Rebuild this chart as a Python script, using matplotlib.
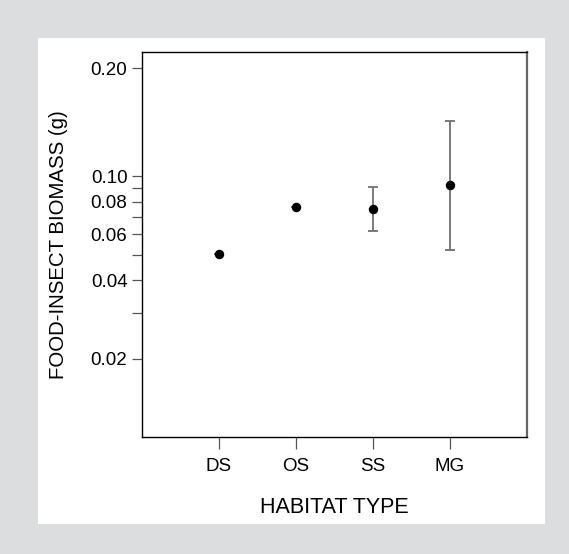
import matplotlib.pyplot as plt
from matplotlib.patches import Rectangle
import numpy as np

# values
habitats = ["DS", "OS", "SS", "MG"]
biomass = [0.0502, 0.0764, 0.0751, 0.0929]
lower = [0.0502, 0.0764, 0.0616, 0.0524]
upper = [0.0502, 0.0764, 0.0910, 0.163]

# y ticks as printed on the original (the 0.20 label sits higher than a true 0.20)
ytick_values = [0.02, 0.03, 0.04, 0.05, 0.06, 0.07, 0.08, 0.09, 0.10, 0.26]
ytick_labels = ["0.02", "", "0.04", "", "0.06", "", "0.08", "", "0.10", "0.20"]

plt.rcParams["font.family"] = ["Liberation Sans", "DejaVu Sans"]

fig = plt.figure(figsize=(5.69, 5.54), dpi=100)
fig.patch.set_facecolor("#dcdddf")

# white panel behind the plot
panel = Rectangle((0.0668, 0.0542), 0.891, 0.8772, transform=fig.transFigure,
                  facecolor="white", edgecolor="none", zorder=-10)
fig.patches.append(panel)

ax = fig.add_axes([0.2496, 0.2112, 0.6766, 0.6949])
ax.set_facecolor("white")

x = np.arange(1, len(habitats) + 1)
y = np.array(biomass)
yerr = np.array([y - np.array(lower), np.array(upper) - y])

ax.errorbar(x, y, yerr=yerr, fmt="none", ecolor="#707070", elinewidth=1.3,
            capsize=3.6, capthick=1.3, zorder=2)
ax.plot(x, y, "o", color="black", markersize=5.8, zorder=3)

ax.set_yscale("log")
ax.set_ylim(0.01, 0.30)
ax.set_xlim(0, 5)

ax.set_yticks(ytick_values)
ax.set_yticklabels(ytick_labels)
ax.yaxis.set_minor_locator(plt.NullLocator())
ax.set_xticks(x)
ax.set_xticklabels(habitats)

ax.tick_params(axis="y", length=7.5, width=0.9, color="#555555", pad=3,
               labelsize=13.5)
ax.tick_params(axis="x", length=8.5, width=0.9, color="#555555", pad=6.5,
               labelsize=13.5)

for side in ["left", "top", "bottom"]:
    ax.spines[side].set_color("black")
    ax.spines[side].set_linewidth(1.0)
ax.spines["right"].set_color("#666666")
ax.spines["right"].set_linewidth(1.6)

ax.set_ylabel("FOOD-INSECT BIOMASS (g)", fontsize=14.7, va="center", ha="center")
ax.yaxis.set_label_coords(-0.216, 0.5)
ax.set_xlabel("HABITAT TYPE", fontsize=15.5, va="center", ha="center")
ax.xaxis.set_label_coords(0.5, -0.182)

fig.savefig("out.png", dpi=100, facecolor=fig.get_facecolor())
plt.close(fig)
